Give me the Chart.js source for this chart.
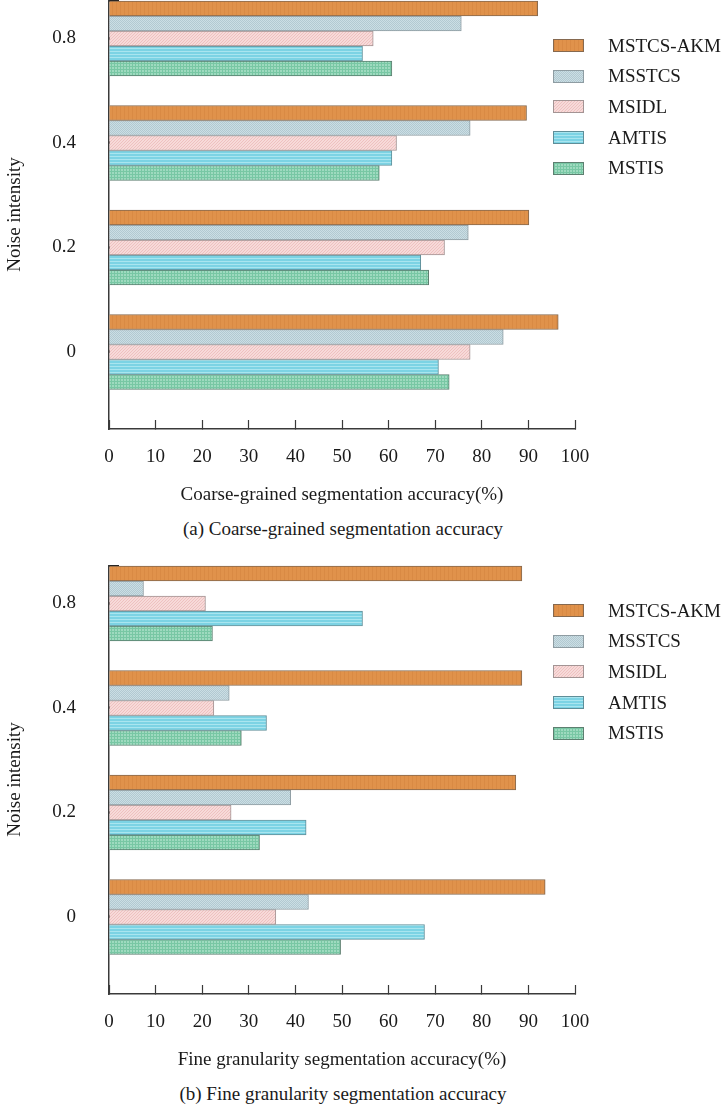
<!DOCTYPE html>
<html>
<head>
<meta charset="utf-8">
<script src="https://cdn.jsdelivr.net/npm/chart.js@4.4.0/dist/chart.umd.min.js"></script>
<style>
  body { margin: 0; background: #fff; width: 725px; height: 1107px; position: relative; overflow: hidden;
         font-family: 'Liberation Serif', 'Times New Roman', serif; color: #1a1a1a; }
  .panel { position: absolute; left: 0; width: 725px; height: 560px; }
  .panel canvas { position: absolute; left: 0; top: 0; }
  .swatch { position: absolute; left: 553px; width: 31px; height: 13px; box-sizing: border-box; border: 1px solid #888; }
  .label { position: absolute; left: 608px; font-size: 19px; line-height: 22px; white-space: nowrap; }
  .caption { position: absolute; left: 0; width: 686px; top: 518px; text-align: center; font-size: 19px; line-height: 22px; }
</style>
</head>
<body>
<div class="panel" id="panelA" style="top:0px">
  <canvas id="chartA" width="725" height="512"></canvas>
  <div class="caption">(a) Coarse-grained segmentation accuracy</div>
</div>
<div class="panel" id="panelB" style="top:565px">
  <canvas id="chartB" width="725" height="512"></canvas>
  <div class="caption">(b) Fine granularity segmentation accuracy</div>
</div>
<script>
// noise levels, bottom to top
const noiseLevels = ['0', '0.2', '0.4', '0.8'];
const methods = ['MSTCS-AKM', 'MSSTCS', 'MSIDL', 'AMTIS', 'MSTIS'];

// coarse-grained segmentation accuracy (%), one value per noise level
const coarseMstcsAkm = [96.4, 90.1, 89.6, 92.0];
const coarseMsstcs   = [84.6, 77.1, 77.5, 75.6];
const coarseMsidl    = [77.5, 72.0, 61.7, 56.7];
const coarseAmtis    = [70.7, 66.9, 60.7, 54.4];
const coarseMstis    = [73.0, 68.6, 58.0, 60.7];

// fine granularity segmentation accuracy (%)
const fineMstcsAkm = [93.6, 87.3, 88.6, 88.6];
const fineMsstcs   = [42.8, 39.0, 25.8, 7.4];
const fineMsidl    = [35.8, 26.2, 22.5, 20.7];
const fineAmtis    = [67.7, 42.3, 33.8, 54.4];
const fineMstis    = [49.7, 32.3, 28.4, 22.2];

const xMin = 0, xMax = 100, xStep = 10;

const textColor = '#1a1a1a';
const axisColor = '#3a3a3a';
const font = { family: "'Liberation Serif', 'Times New Roman', serif", size: 19 };

// y range in category index units, so that the groups sit where they do in the figure
const yMax = 3.368;
const yMin = -0.737;

function tile(size, base, paint) {
  const c = document.createElement('canvas');
  c.width = size; c.height = size;
  const g = c.getContext('2d');
  g.fillStyle = base;
  g.fillRect(0, 0, size, size);
  paint(g, size);
  return c;
}

const tiles = [
  tile(4, '#e0924b', (g) => { g.fillStyle = '#d98a44'; g.fillRect(0, 0, 1, 4); }),
  tile(2, '#cbdee4', (g) => { g.fillStyle = '#b2c9d1'; g.fillRect(0, 0, 1, 1); g.fillRect(1, 1, 1, 1); }),
  tile(3, '#f7dad9', (g, n) => { g.fillStyle = '#eec1c0'; for (let i = 0; i < n; i++) g.fillRect(i, n - 1 - i, 1, 1); }),
  tile(3, '#7cd3e4', (g) => { g.fillStyle = '#a9e5ef'; g.fillRect(0, 0, 3, 1); }),
  tile(3, '#9edabf', (g) => { g.fillStyle = '#78c7a4'; g.fillRect(0, 0, 3, 1); g.fillRect(0, 0, 1, 3); }),
];
const borderColors = ['#86694f', '#8e9ca2', '#a39494', '#5f8e98', '#5d7f70'];

function addLegend(panelId) {
  const panel = document.getElementById(panelId);
  methods.forEach((name, i) => {
    const top = 39 + i * 30.7;
    const sw = document.createElement('div');
    sw.className = 'swatch';
    sw.style.top = top + 'px';
    sw.style.backgroundImage = 'url(' + tiles[i].toDataURL() + ')';
    sw.style.borderColor = borderColors[i];
    panel.appendChild(sw);
    const lb = document.createElement('div');
    lb.className = 'label';
    lb.style.top = (top + 6.5 - 11) + 'px';
    lb.textContent = name;
    panel.appendChild(lb);
  });
}

function buildChart(canvasId, series, xTitle) {
  const ctx = document.getElementById(canvasId).getContext('2d');
  return new Chart(ctx, {
    type: 'bar',
    data: {
      datasets: series.map((vals, k) => ({
        label: methods[k],
        data: vals.map((v, i) => ({ x: v, y: i })),
        backgroundColor: ctx.createPattern(tiles[k], 'repeat'),
        borderColor: borderColors[k],
        borderWidth: 1,
        barThickness: 15,
      })),
    },
    options: {
      indexAxis: 'y',
      responsive: false,
      animation: false,
      events: [],
      layout: { padding: { left: 0, right: 150, top: 0, bottom: 0 } },
      plugins: { legend: { display: false }, tooltip: { enabled: false } },
      scales: {
        x: {
          type: 'linear',
          min: xMin,
          max: xMax,
          ticks: { stepSize: xStep, color: textColor, font: font, padding: 26, maxRotation: 0, autoSkip: false },
          grid: { drawOnChartArea: false, drawTicks: true, tickLength: -9, tickColor: axisColor, tickWidth: 1.2 },
          border: { display: true, color: axisColor, width: 1.5 },
          title: { display: true, text: xTitle, color: textColor, font: font, padding: { top: 0, bottom: 6 } },
          afterFit: (s) => { s.height = 83; s.paddingLeft = 0; s.paddingRight = 0; },
        },
        y: {
          type: 'linear',
          min: yMin,
          max: yMax,
          offset: false,
          afterBuildTicks: (s) => { s.ticks = [0, 1, 2, 3, yMax].map((v) => ({ value: v })); },
          ticks: {
            color: textColor, font: font, padding: 43, autoSkip: false,
            callback: (v) => (Number.isInteger(v) ? noiseLevels[v] : ''),
          },
          grid: { offset: false, drawOnChartArea: false, drawTicks: true, tickLength: -10, tickColor: '#222', tickWidth: 2.5 },
          border: { display: true, color: axisColor, width: 1.5 },
          title: { display: true, text: 'Noise intensity', color: textColor, font: font, padding: { top: 4, bottom: 0 } },
          afterFit: (s) => { s.width = 109; s.paddingTop = 0; s.paddingBottom = 0; },
        },
      },
    },
  });
}

buildChart('chartA', [coarseMstcsAkm, coarseMsstcs, coarseMsidl, coarseAmtis, coarseMstis],
  'Coarse-grained segmentation accuracy(%)');
buildChart('chartB', [fineMstcsAkm, fineMsstcs, fineMsidl, fineAmtis, fineMstis],
  'Fine granularity segmentation accuracy(%)');
addLegend('panelA');
addLegend('panelB');
</script>
</body>
</html>
